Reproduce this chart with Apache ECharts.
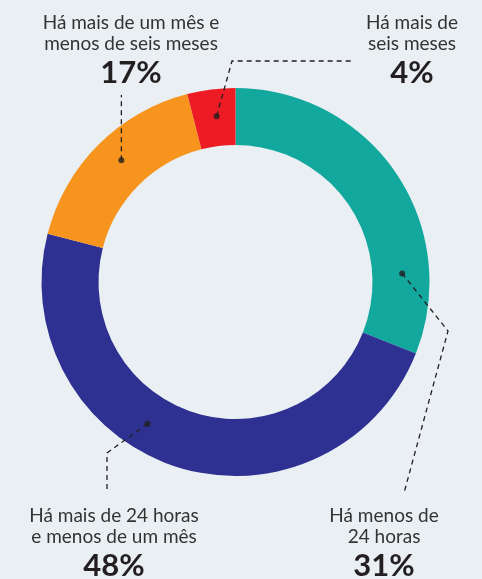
<!DOCTYPE html>
<html>
<head>
<meta charset="utf-8">
<script src="https://cdn.jsdelivr.net/npm/echarts@6/dist/echarts.min.js"></script>
<style>
  html, body { margin: 0; padding: 0; background: #e9eff2; }
  #chart { width: 482px; height: 579px; }
</style>
</head>
<body>
<div id="chart"></div>
<script>
// data
const categories = [
    'Há menos de\n24 horas',
    'Há mais de 24 horas\ne menos de um mês',
    'Há mais de um mês e\nmenos de seis meses',
    'Há mais de\nseis meses'
];
const shares = [31, 48, 17, 4];
const colors = ['#13a89e', '#2e3192', '#f7941d', '#ed1c24'];

// layout
const center = [235.5, 282];
const outerR = 194;
const innerR = 137;
const dotR = 0.86;                         // fraction of outer radius
const pointerAt = [0.78, 0.58, 0.53, 0.55]; // where along each slice the pointer sits
const labelPos = [[384, 505], [114, 505], [131, 12], [412, 12]];
const leaderBends = [
    [[448, 331], [404, 493]],
    [[107, 453], [107, 493]],
    [null, [null, 95]],
    [[232, 61], [352, 61]]
];

const total = shares.reduce((a, b) => a + b, 0);
let acc = 0;
const dots = shares.map((v, i) => {
    const pos = (acc + v * pointerAt[i]) / total * 100;
    acc += v;
    return [dotR, pos];
});

const chart = echarts.init(document.getElementById('chart'));
const textFont = 'Lato, "Noto Sans", sans-serif';

chart.setOption({
    animation: false,
    backgroundColor: '#e9eff2',
    polar: { center: center, radius: outerR },
    angleAxis: { type: 'value', min: 0, max: 100, startAngle: 90, show: false },
    radiusAxis: { type: 'value', min: 0, max: 1, show: false },
    series: [
        {
            type: 'pie',
            center: center,
            radius: [innerR, outerR],
            startAngle: 90,
            clockwise: true,
            silent: true,
            avoidLabelOverlap: false,
            data: categories.map((name, i) => ({
                name: name,
                value: shares[i],
                itemStyle: { color: colors[i] }
            })),
            label: {
                show: true,
                position: 'outside',
                align: 'center',
                overflow: 'none',
                width: 300,
                formatter: function (p) {
                    const lines = p.name.split('\n').map(s => '{t|' + s + '}');
                    return lines.join('\n') + '\n{p|' + p.value + '%}';
                },
                rich: {
                    t: { fontFamily: textFont, fontSize: 19, lineHeight: 21, color: '#333333', align: 'center' },
                    p: { fontFamily: textFont, fontSize: 31, fontWeight: 'bold', lineHeight: 38, color: '#231f20', align: 'center' }
                }
            },
            labelLine: { show: false },
            labelLayout: function (params) {
                const pos = labelPos[params.dataIndex];
                return { x: pos[0], y: pos[1], align: 'center', verticalAlign: 'top' };
            }
        },
        {
            type: 'scatter',
            coordinateSystem: 'polar',
            data: dots,
            symbolSize: 6,
            itemStyle: { color: '#231f20' },
            z: 10,
            silent: true
        }
    ]
});

// dashed leader lines from each dot to its label
const lines = dots.map((d, i) => {
    const start = chart.convertToPixel({ seriesIndex: 1 }, d);
    const pts = [start];
    leaderBends[i].forEach(b => {
        if (!b) return;
        pts.push([b[0] == null ? start[0] : b[0], b[1]]);
    });
    return {
        type: 'polyline',
        shape: { points: pts },
        style: { stroke: '#231f20', lineWidth: 1.3, lineDash: [5, 4], fill: null },
        z: 9,
        silent: true
    };
});
chart.setOption({ graphic: lines });
</script>
</body>
</html>
